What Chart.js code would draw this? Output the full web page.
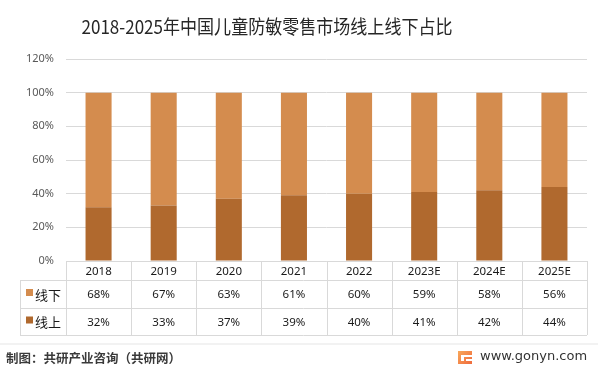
<!DOCTYPE html>
<html>
<head>
<meta charset="utf-8">
<script src="https://cdn.jsdelivr.net/npm/chart.js@4"></script>
<style>
  html, body { margin: 0; padding: 0; background: #fff; }
</style>
</head>
<body>
<canvas id="chart" width="598" height="372"></canvas>
<script>
// data
const years = ['2018', '2019', '2020', '2021', '2022', '2023E', '2024E', '2025E'];
const offline = [68, 67, 63, 61, 60, 59, 58, 56];   // 线下
const online = [32, 33, 37, 39, 40, 41, 42, 44];    // 线上
const seriesNames = ['线下', '线上'];

const COLOR_OFFLINE = '#D48C4E';
const COLOR_ONLINE = '#B0692E';
const GRID = '#d9d9d9';

// draws title, data table under the bars and the footer
const tablePlugin = {
  id: 'dataTable',
  afterDraw(chart) {
    const ctx = chart.ctx;
    const xs = chart.scales.x;
    const left = xs.left, right = xs.right;
    const colW = (right - left) / years.length;
    const top = chart.chartArea.bottom;
    const rowH = [top, top + 19, top + 47, top + 74];
    const labelLeft = 20;

    ctx.save();

    // title (slightly condensed to match the original font width)
    const title = '2018-2025年中国儿童防敏零售市场线上线下占比';
    ctx.fillStyle = '#262626';
    ctx.font = '19px "Noto Sans CJK SC"';
    ctx.textAlign = 'center';
    ctx.textBaseline = 'middle';
    const tw = ctx.measureText(title).width;
    const sx = Math.min(1, 371 / tw);
    ctx.save();
    ctx.translate(267, 27);
    ctx.scale(sx, 1);
    ctx.fillText(title, 0, 0);
    ctx.restore();

    // table lines
    ctx.strokeStyle = GRID;
    ctx.lineWidth = 1;
    ctx.beginPath();
    ctx.moveTo(left, rowH[0] + 0.5); ctx.lineTo(right, rowH[0] + 0.5);
    for (let r = 1; r < 4; r++) {
      ctx.moveTo(labelLeft, Math.round(rowH[r]) + 0.5);
      ctx.lineTo(right, Math.round(rowH[r]) + 0.5);
    }
    for (let i = 0; i <= years.length; i++) {
      const x = Math.round(left + i * colW) + 0.5;
      ctx.moveTo(x, rowH[0]); ctx.lineTo(x, rowH[3]);
    }
    ctx.moveTo(labelLeft + 0.5, rowH[1]); ctx.lineTo(labelLeft + 0.5, rowH[3]);
    ctx.stroke();

    // header + values
    ctx.fillStyle = '#1a1a1a';
    ctx.font = '11.5px "Noto Sans"';
    years.forEach((y, i) => {
      const cx = xs.getPixelForValue(i);
      ctx.fillText(y, cx, (rowH[0] + rowH[1]) / 2 + 1);
      ctx.fillText(offline[i] + '%', cx, (rowH[1] + rowH[2]) / 2 + 1);
      ctx.fillText(online[i] + '%', cx, (rowH[2] + rowH[3]) / 2 + 1);
    });

    // legend cells
    const colors = [COLOR_OFFLINE, COLOR_ONLINE];
    ctx.textAlign = 'left';
    ctx.font = '13px "Noto Sans CJK SC"';
    seriesNames.forEach((name, k) => {
      const cy = (rowH[k + 1] + rowH[k + 2]) / 2;
      ctx.fillStyle = colors[k];
      ctx.fillRect(26, cy - 5, 7, 7);
      ctx.fillStyle = '#1a1a1a';
      ctx.fillText(name, 35, cy + 1);
    });

    // faint separator above footer
    ctx.fillStyle = '#f2f2f2';
    ctx.fillRect(0, 343, 598, 2);

    // footer
    ctx.fillStyle = '#3a3a3a';
    ctx.font = 'bold 12.5px "Noto Sans CJK SC"';
    ctx.fillText('制图：共研产业咨询（共研网）', 6, 358);

    ctx.fillStyle = '#333';
    ctx.font = '13px "DejaVu Sans"';
    ctx.fillText('www.gonyn.com', 480, 357);

    // small orange logo
    const g = ctx.createLinearGradient(458, 351, 472, 364);
    g.addColorStop(0, '#f9a85a');
    g.addColorStop(1, '#ef6a3c');
    ctx.fillStyle = g;
    ctx.fillRect(458, 351, 14, 13);
    ctx.fillStyle = '#fff';
    ctx.fillRect(461, 355, 11, 2);
    ctx.fillRect(461, 357, 3, 4);
    ctx.fillRect(466, 359, 6, 2);

    ctx.restore();
  }
};

new Chart(document.getElementById('chart'), {
  type: 'bar',
  data: {
    labels: years,
    datasets: [{
        label: seriesNames[1],
        data: online.map(v => v / 100),
        backgroundColor: COLOR_ONLINE,
        barPercentage: 0.4,
        categoryPercentage: 1
      },
      {
        label: seriesNames[0],
        data: offline.map(v => v / 100),
        backgroundColor: COLOR_OFFLINE,
        barPercentage: 0.4,
        categoryPercentage: 1
      }]
  },
  options: {
    responsive: false,
    animation: false,
    layout: { padding: { top: 59, bottom: 111, left: 0, right: 11 } },
    plugins: {
      legend: false,
      title: { display: false },
      tooltip: { enabled: false }
    },
    scales: {
      x: {
        stacked: true,
        display: false
      },
      y: {
        stacked: true,
        min: 0,
        max: 1.2,
        afterFit(scale) { scale.width = 66; },
        ticks: {
          stepSize: 0.2,
          padding: 12,
          color: '#595959',
          font: { family: 'Noto Sans', size: 11 },
          callback: v => Math.round(v * 100) + '%'
        },
        grid: { color: GRID, drawTicks: false },
        border: { display: false }
      }
    }
  },
  plugins: [tablePlugin]
});
</script>
</body>
</html>
